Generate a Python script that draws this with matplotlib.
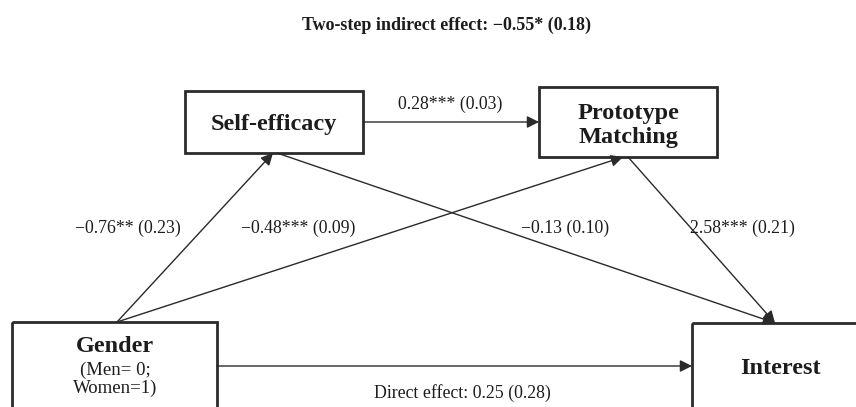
import matplotlib
matplotlib.use("Agg")
import matplotlib.pyplot as plt
from matplotlib.patches import Rectangle

# valores do modelo de mediacao
titulo = "Two-step indirect effect: \u22120.55* (0.18)"
caminhos = ["a1", "d21", "a2", "b1", "b2", "c"]
coeficientes = ["\u22120.76** (0.23)", "0.28*** (0.03)", "\u22120.48*** (0.09)",
                "\u22120.13 (0.10)", "2.58*** (0.21)", "Direct effect: 0.25 (0.28)"]

plt.rcParams['font.family'] = ['Liberation Serif', 'DejaVu Serif']
cor = "#1c1c1c"

fig = plt.figure(figsize=(8.56, 4.07), dpi=100)
ax = fig.add_axes([0, 0, 1, 1])
ax.set_xlim(0, 856)
ax.set_ylim(407, 0)
ax.axis("off")

# caixas (x, y, largura, altura)
caixas = {
    "se": (185, 91, 178, 62),
    "pm": (539, 87, 178, 70),
    "g": (12, 322, 205, 120),
    "i": (692, 323, 200, 120),
}
for x, y, w, h in caixas.values():
    ax.add_patch(Rectangle((x, y), w, h, fill=False, ec="#2a2a2a", lw=2.0, clip_on=True))

negrito = dict(ha="center", va="baseline", fontsize=17.5, fontweight="bold", color=cor)
ax.text(274, 130, "Self-efficacy", **negrito)
ax.text(628, 119, "Prototype", **negrito)
ax.text(628, 143, "Matching", **negrito)
ax.text(115, 352, "Gender", **negrito)
ax.text(115, 375, "(Men= 0;", ha="center", va="baseline", fontsize=13.5, color=cor)
ax.text(115, 393, "Women=1)", ha="center", va="baseline", fontsize=13.5, color=cor)
ax.text(780, 374, "Interest", **negrito)

# setas
setas = {
    "a1": ((117, 322), (273, 153)),
    "d21": ((363, 122), (539, 122)),
    "a2": ((117, 322), (623, 157)),
    "b1": ((277, 153), (775, 323)),
    "b2": ((628, 157), (775, 323)),
    "c": ((217, 366), (692, 366)),
}
for k in caminhos:
    ini, fim = setas[k]
    ax.annotate("", xy=fim, xytext=ini,
                arrowprops=dict(arrowstyle="-|>", color="#2a2a2a", lw=1.0,
                                mutation_scale=18, shrinkA=0, shrinkB=0))

# rotulos dos coeficientes
posicoes = {
    "a1": (128, 233),
    "d21": (450, 109),
    "a2": (298, 233),
    "b1": (565, 233),
    "b2": (742, 233),
    "c": (462, 398),
}
for k, txt in zip(caminhos, coeficientes):
    x, y = posicoes[k]
    ax.text(x, y, txt, ha="center", va="baseline", fontsize=12.8, color=cor)

ax.text(447, 30, titulo, ha="center", va="baseline", fontsize=13, fontweight="bold", color=cor)

fig.savefig("out.png", dpi=100, facecolor="white")
